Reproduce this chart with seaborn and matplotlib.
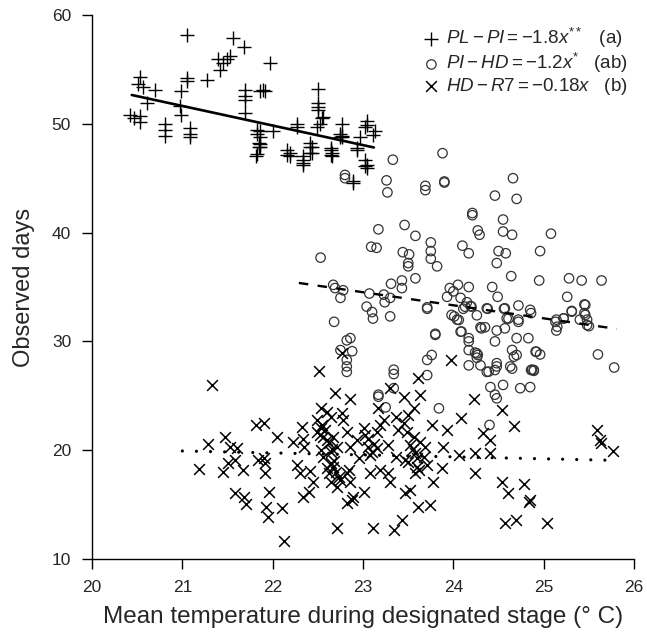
import numpy as np
import pandas as pd
import matplotlib
matplotlib.use("Agg")
import matplotlib.pyplot as plt
import seaborn as sns

# PL-PI stage: mean temperature (x) and observed days (y)
pl_pi_temp = [21.05, 21.56, 21.68, 21.97, 21.40, 21.53, 21.42, 21.27, 21.05, 21.05, 20.99, 20.97,
              20.99, 20.53, 20.51, 20.57, 20.70, 20.61, 20.42, 20.53, 20.53, 20.81, 20.81, 20.81,
              21.09, 21.09, 21.09, 21.69, 21.69, 21.69, 21.69, 21.89, 21.86, 21.92, 21.86, 21.86,
              21.86, 21.86, 21.82, 22.00, 22.19, 22.19, 22.34, 22.34, 22.27, 22.27, 22.41, 22.41,
              22.41, 22.50, 22.50, 22.50, 22.49, 22.56, 22.64, 22.66, 22.66, 22.77, 22.77, 22.77,
              22.93, 22.97, 23.02, 23.02, 23.02, 22.89, 21.45, 21.49, 22.50, 22.52, 22.55, 22.75,
              22.75, 23.04, 23.04, 23.11, 22.93, 23.04, 23.04, 21.83, 21.83, 21.85, 21.85, 21.83,
              22.16, 22.16, 22.33, 22.33, 22.44, 22.44, 22.65, 22.65, 22.89, 23.13, 20.46]
pl_pi_days = [58.2, 57.9, 57.1, 55.6, 56.0, 56.2, 54.9, 54.0, 53.9, 54.2, 53.0, 51.6,
              50.8, 54.3, 53.7, 53.4, 53.1, 51.9, 50.8, 50.7, 50.2, 50.0, 48.9, 49.4,
              49.6, 49.1, 48.8, 53.1, 52.6, 52.2, 51.0, 53.1, 53.0, 53.0, 49.3, 48.8,
              48.1, 47.9, 47.0, 49.3, 47.3, 47.0, 47.0, 46.4, 50.0, 49.7, 47.3, 47.9,
              48.2, 53.2, 51.9, 51.3, 49.7, 50.6, 47.6, 47.3, 47.0, 50.0, 48.9, 48.8,
              47.8, 48.8, 49.7, 46.7, 46.1, 44.6, 55.6, 56.0, 51.5, 50.0, 50.5, 49.1,
              48.8, 50.3, 49.9, 49.0, 47.6, 45.9, 46.2, 49.4, 49.1, 48.2, 47.9, 47.2,
              47.6, 47.1, 46.7, 46.2, 47.9, 47.3, 47.8, 47.1, 44.7, 49.3, 50.5]

# PI-HD stage
pi_hd_temp = [23.88, 23.33, 23.26, 23.27, 23.69, 23.69, 23.90, 23.90, 24.66, 24.46, 24.70, 24.21,
              24.21, 24.27, 24.29, 24.55, 24.55, 24.65, 25.08, 23.17, 23.46, 23.58, 23.09, 23.15,
              23.75, 23.75, 23.75, 23.82, 23.44, 23.51, 23.50, 23.50, 24.10, 24.17, 24.50, 24.58,
              24.48, 24.96, 22.53, 24.64, 24.95, 25.28, 25.42, 25.64, 23.58, 22.67, 22.69, 22.78,
              22.75, 23.07, 23.04, 23.10, 23.11, 23.31, 23.43, 23.43, 23.23, 23.30, 23.24, 23.30,
              22.68, 23.71, 23.96, 24.05, 24.17, 23.93, 24.00, 24.08, 24.15, 24.20, 24.11, 24.01,
              24.04, 24.26, 24.30, 24.35, 24.43, 24.49, 24.38, 24.56, 24.61, 24.72, 24.72, 24.85,
              24.86, 24.48, 24.46, 24.57, 24.70, 24.83, 25.14, 25.14, 25.22, 25.31, 25.26, 25.45,
              25.45, 25.48, 25.50, 25.40, 23.80, 23.80, 24.08, 24.17, 24.17, 24.26, 24.26, 24.17,
              22.82, 22.86, 22.75, 22.88, 22.82, 22.82, 22.82, 23.76, 23.71, 23.71, 23.34, 23.34,
              23.17, 23.34, 24.17, 24.30, 24.37, 24.48, 24.48, 24.67, 24.70, 24.63, 24.65, 24.87,
              24.89, 24.92, 24.96, 24.41, 24.55, 24.46, 24.74, 24.85, 25.60, 25.78, 23.84, 24.40,
              23.17, 23.25, 24.48, 22.80, 22.80, 24.24, 24.27, 24.39, 24.46, 24.65, 24.91, 24.86,
              24.89, 24.06, 24.09, 24.31, 24.37, 24.57, 24.59, 24.72, 25.13, 25.15, 25.22, 25.31,
              25.46, 25.48, 25.46, 23.71, 23.98, 24.13, 24.19]
pi_hd_days = [47.3, 46.7, 44.8, 43.7, 44.3, 43.9, 44.7, 44.6, 45.0, 43.4, 43.1, 41.8,
              41.6, 40.2, 39.8, 41.2, 40.1, 39.8, 39.9, 40.3, 40.7, 39.7, 38.7, 38.6,
              39.1, 38.3, 37.6, 36.9, 38.2, 38.0, 37.2, 36.9, 38.8, 38.1, 38.3, 38.1,
              37.2, 38.3, 37.7, 36.0, 35.6, 35.8, 35.6, 35.6, 35.8, 35.2, 34.9, 34.7,
              34.0, 34.4, 33.2, 32.7, 32.1, 35.3, 35.6, 34.9, 34.3, 34.0, 33.6, 32.3,
              31.8, 33.0, 34.9, 35.2, 35.0, 34.1, 34.6, 34.0, 33.6, 33.2, 33.0, 32.3,
              32.0, 32.4, 31.3, 31.3, 35.0, 34.1, 33.0, 33.0, 32.1, 33.3, 32.0, 32.9,
              32.6, 31.0, 30.0, 31.2, 30.3, 30.3, 32.0, 31.0, 32.1, 32.8, 34.1, 33.4,
              32.6, 32.0, 31.4, 32.0, 30.7, 30.6, 30.9, 30.3, 30.0, 28.9, 28.5, 29.2,
              30.1, 30.3, 29.2, 29.1, 28.3, 27.7, 27.2, 28.75, 28.3, 26.9, 27.4, 27.0,
              25.1, 25.7, 27.8, 27.8, 27.2, 27.7, 28.0, 28.6, 28.75, 27.7, 27.5, 27.4,
              27.3, 29.05, 28.8, 25.8, 26.0, 25.1, 25.7, 25.8, 28.8, 27.6, 23.85, 22.32,
              24.92, 23.94, 24.77, 45.3, 45.0, 28.97, 28.75, 27.22, 27.37, 29.21, 29.06, 27.37,
              27.37, 31.97, 30.9, 31.2, 33.04, 33.04, 32.12, 31.8, 31.8, 31.35, 32.12, 32.73,
              32.43, 31.5, 33.35, 33.13, 32.43, 33.19, 33.25]

# HD-R7 stage
hd_r7_temp = [21.33, 22.51, 22.69, 22.86, 21.81, 21.90, 21.28, 21.47, 21.53, 21.61, 22.05, 22.32,
              22.23, 22.34, 22.35, 21.18, 21.45, 21.51, 21.58, 21.67, 21.84, 21.90, 21.92, 21.91,
              21.58, 21.68, 21.71, 21.96, 21.93, 21.95, 22.10, 22.12, 22.27, 22.30, 22.41, 22.45,
              22.34, 22.40, 22.54, 22.60, 22.65, 22.49, 22.53, 22.49, 22.56, 22.62, 22.54, 22.65,
              22.56, 22.64, 22.60, 22.67, 22.62, 22.65, 22.71, 22.73, 22.67, 22.71, 22.77, 22.78,
              22.82, 22.86, 22.82, 22.86, 22.84, 22.89, 22.82, 22.88, 23.01, 22.95, 22.93, 23.01,
              23.06, 23.10, 23.15, 23.19, 23.08, 23.19, 23.28, 23.30, 23.23, 23.36, 23.39, 23.28,
              23.36, 22.71, 23.11, 23.34, 23.30, 22.77, 23.17, 23.97, 23.61, 23.63, 24.23, 24.54,
              23.45, 23.56, 23.50, 23.45, 23.49, 23.56, 23.63, 23.69, 23.58, 23.67, 23.47, 23.60,
              23.71, 23.58, 23.76, 23.93, 24.08, 23.89, 24.06, 23.87, 23.78, 23.47, 23.52, 23.61,
              23.74, 23.43, 24.24, 24.24, 24.33, 24.41, 24.41, 24.67, 24.54, 24.61, 24.78, 24.84,
              24.85, 24.57, 24.69, 25.04, 25.59, 25.62, 25.63, 25.77, 22.55, 22.58, 22.52, 22.60,
              22.66, 22.68, 22.70, 22.75, 23.02, 23.05, 23.12, 23.15, 23.08, 23.52, 23.55, 23.60,
              23.50, 23.62]
hd_r7_days = [25.99, 27.28, 25.23, 24.67, 22.32, 22.53, 20.57, 21.18, 20.33, 20.17, 21.18, 22.16,
              20.78, 21.00, 20.33, 18.24, 18.03, 18.79, 19.10, 18.18, 19.10, 19.25, 18.79, 17.87,
              16.10, 15.73, 15.06, 16.19, 14.81, 13.89, 14.66, 11.69, 18.64, 17.87, 18.12, 17.11,
              15.73, 16.19, 23.85, 23.54, 23.08, 22.78, 22.01, 21.71, 21.24, 20.63, 20.02, 19.87,
              19.41, 18.79, 18.33, 18.49, 17.87, 17.11, 16.65, 17.57, 21.24, 20.33, 23.39, 22.78,
              21.71, 20.33, 17.87, 17.11, 18.18, 15.73, 15.12, 15.42, 16.19, 19.25, 20.94, 22.01,
              20.33, 19.87, 21.71, 22.32, 17.87, 18.18, 17.87, 17.11, 22.78, 23.08, 21.86, 20.48,
              19.41, 12.82, 12.82, 12.66, 25.69, 28.90, 23.85, 28.29, 26.61, 25.07, 24.67, 23.70,
              24.92, 23.85, 23.24, 22.47, 21.71, 21.24, 20.78, 20.33, 19.71, 19.41, 19.10, 18.49,
              18.64, 17.87, 22.31, 21.86, 22.93, 20.33, 19.56, 18.33, 17.11, 16.04, 16.34, 14.81,
              14.96, 13.58, 19.71, 17.93, 21.55, 20.94, 19.71, 22.22, 17.11, 16.10, 16.86, 15.27,
              15.42, 13.28, 13.58, 13.28, 21.86, 20.94, 20.69, 19.96, 22.30, 21.90, 21.40, 20.90,
              20.10, 19.00, 18.00, 17.30, 21.40, 21.00, 20.60, 20.20, 19.60, 20.50, 20.10, 19.30,
              18.90, 18.20]

# fitted regression lines (slope from legend, intercept)
slopes = [-1.8, -1.2, -0.18]
intercepts = [89.44, 62.12, 23.71]
line_x_start = [20.44, 22.29, 21.00]
line_x_end = [23.12, 25.81, 25.77]

legend_labels = [r"$PL-PI=-1.8x^{**}$   (a)",
                 r"$PI-HD=-1.2x^{*}$   (ab)",
                 r"$HD-R7=-0.18x$   (b)"]

sns.set_theme(style="ticks")
plt.rcParams["font.family"] = ["Liberation Sans", "DejaVu Sans"]
plt.rcParams["mathtext.fontset"] = "custom"
plt.rcParams["mathtext.rm"] = "Liberation Sans"
plt.rcParams["mathtext.it"] = "Liberation Sans:italic"

fig = plt.figure(figsize=(6.47, 6.38), dpi=100)
ax = fig.add_axes([0.1422, 0.1238, 0.8378, 0.8527])

df1 = pd.DataFrame({"temp": pl_pi_temp, "days": pl_pi_days})
df2 = pd.DataFrame({"temp": pi_hd_temp, "days": pi_hd_days})
df3 = pd.DataFrame({"temp": hd_r7_temp, "days": hd_r7_days})

sns.scatterplot(data=df1, x="temp", y="days", marker="+", s=100, color="black",
                linewidth=1.0, ax=ax, label=legend_labels[0], clip_on=False)
sns.scatterplot(data=df2, x="temp", y="days", marker="o", s=46, facecolors="none",
                edgecolor="#333333", linewidth=0.9, ax=ax, label=legend_labels[1], clip_on=False)
sns.scatterplot(data=df3, x="temp", y="days", marker="x", s=60, color="black",
                linewidth=1.1, ax=ax, label=legend_labels[2], clip_on=False)

styles = [dict(linestyle="-", linewidth=1.9),
          dict(linestyle=(0, (4, 4)), linewidth=1.7),
          dict(linestyle=(0, (0.01, 4.4)), linewidth=2.3, dash_capstyle="round")]
for i in range(3):
    lx = np.array([line_x_start[i], line_x_end[i]])
    ly = intercepts[i] + slopes[i] * lx
    sns.lineplot(x=lx, y=ly, color="black", ax=ax, legend=False, **styles[i])

ax.set_xlim(20, 26)
ax.set_ylim(10, 60)
ax.set_xticks([20, 21, 22, 23, 24, 25, 26])
ax.set_yticks([10, 20, 30, 40, 50, 60])
sns.despine(ax=ax)
for side in ["left", "bottom"]:
    ax.spines[side].set_linewidth(1.0)
    ax.spines[side].set_color("black")
ax.tick_params(axis="both", length=7, width=1.0, color="black", labelsize=12.5, pad=8)

ax.set_xlabel("Mean temperature during designated stage (\u00b0 C)", fontsize=17.5, labelpad=8)
ax.set_ylabel("Observed days", fontsize=17, labelpad=12)

ax.legend(loc="upper right", bbox_to_anchor=(1.01, 1.0), frameon=False, fontsize=13.5,
          handletextpad=0.35, handlelength=0.9, labelspacing=0.05, borderaxespad=0.2)

fig.savefig("out.png", dpi=100)
